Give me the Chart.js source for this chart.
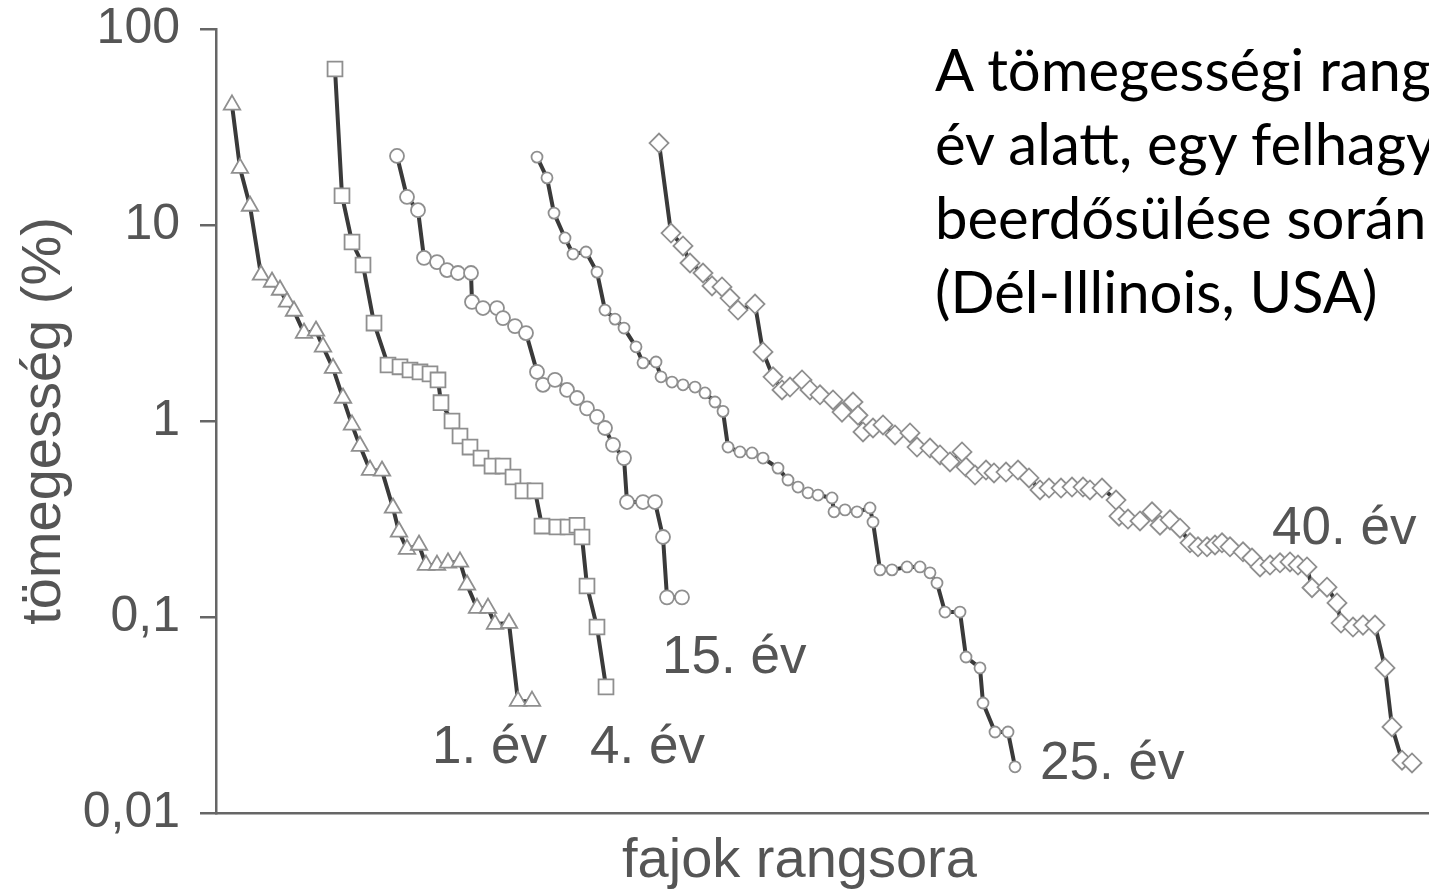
<!DOCTYPE html>
<html lang="hu">
<head>
  <meta charset="UTF-8">
  <title>Tömegességi rangsor</title>
  <script src="https://cdn.jsdelivr.net/npm/chart.js"></script>
  <style>
    html, body { margin: 0; padding: 0; background: #fff; overflow: hidden; }
    .wrap { position: relative; width: 1429px; height: 891px; overflow: hidden; }
    .lbl { position: absolute; font-family: "Liberation Sans", Arial, sans-serif; font-size: 53px; line-height: 1; color: #555; white-space: nowrap; }
    .cim { position: absolute; left: 935px; top: 32px; font-family: Lato, "Open Sans", sans-serif; font-size: 58px; line-height: 74px; color: #000; white-space: nowrap; }
  </style>
</head>
<body>
  <div class="wrap">
    <canvas id="rang"></canvas>
    <div class="cim">A tömegességi rang<br>év alatt, egy felhagy<br>beerdősülése során<br>(Dél-Illinois, USA)</div>
    <div class="lbl" style="left:432px; top:718px">1. év</div>
    <div class="lbl" style="left:590px; top:718px">4. év</div>
    <div class="lbl" style="left:662px; top:628px">15. év</div>
    <div class="lbl" style="left:1040px; top:734px">25. év</div>
    <div class="lbl" style="left:1272px; top:499px">40. év</div>
    <div class="lbl" style="left:622px; top:830px; font-size:56px">fajok rangsora</div>
  </div>

  <script>
    // y tengely beosztása (log)
    const yTicks = [0.01, 0.1, 1, 10, 100];

    // rangsor-pozíciók (x) és tömegességek (%) sorozatonként
    const x1 = [1.6, 2.4, 3.4, 4.5, 5.6, 6.4, 7.1, 7.8, 8.8, 10.0, 10.7, 11.7, 12.7, 13.6, 14.4, 15.4, 16.6, 17.7, 18.3, 19.1,
                20.3, 21.0, 22.1, 23.2, 24.4, 25.1, 26.1, 27.2, 27.9, 29.3, 30.2, 31.6];
    const y1 = [41, 19.5, 12.5, 5.56, 5.12, 4.66, 4.05, 3.64, 2.81, 2.88, 2.39, 1.86, 1.31, 0.955, 0.745, 0.562, 0.556, 0.360, 0.272, 0.222,
                0.233, 0.184, 0.184, 0.189, 0.191, 0.146, 0.111, 0.111, 0.092, 0.093, 0.0372, 0.0372];

    const x4 = [11.9, 12.6, 13.6, 14.7, 15.8, 17.2, 18.4, 19.4, 20.4, 21.4, 22.2, 22.5, 23.6, 24.4, 25.4, 26.5, 27.6, 28.7, 29.7, 30.7,
                31.9, 32.6, 34.1, 35.2, 36.1, 36.6, 37.1, 38.1, 39.0];
    const y4 = [62.5, 14.1, 8.19, 6.25, 3.16, 1.93, 1.89, 1.82, 1.78, 1.74, 1.62, 1.24, 1.00, 0.838, 0.736, 0.647, 0.589, 0.589, 0.518, 0.440,
                0.440, 0.291, 0.288, 0.288, 0.294, 0.256, 0.144, 0.0889, 0.0440];

    const x15 = [18.1, 19.1, 20.2, 20.8, 22.1, 23.1, 24.2, 25.5, 25.6, 26.7, 28.1, 28.7, 29.9, 31.0, 32.1, 32.7, 33.9, 35.1, 36.1, 37.1,
                 38.1, 38.9, 39.7, 40.8, 41.1, 42.7, 43.9, 44.7, 45.1, 46.6];
    const y15 = [22.5, 13.9, 11.9, 6.79, 6.47, 5.89, 5.69, 5.69, 4.05, 3.77, 3.77, 3.35, 3.05, 2.81, 1.78, 1.53, 1.62, 1.44, 1.31, 1.16,
                 1.05, 0.921, 0.755, 0.647, 0.386, 0.386, 0.386, 0.256, 0.126, 0.126];

    const x25 = [32.1, 33.1, 33.8, 34.9, 35.7, 37.0, 38.1, 38.9, 39.9, 40.8, 42.0, 42.7, 44.0, 44.5, 45.6, 46.7, 47.9, 48.9, 49.9, 50.7,
                 51.2, 52.4, 53.6, 54.7, 56.2, 57.2, 58.2, 59.2, 60.2, 61.6, 61.8, 62.9, 64.1, 65.4, 65.7, 66.4, 67.6, 69.1, 70.4, 71.4,
                 72.1, 72.9, 74.4, 75.0, 76.4, 76.7, 77.9, 79.2, 79.9];
    const y25 = [22.2, 17.4, 11.5, 8.59, 7.11, 7.28, 5.75, 3.68, 3.31, 2.98, 2.39, 1.98, 2.00, 1.68, 1.58, 1.53, 1.49, 1.39, 1.25, 1.12,
                 0.736, 0.695, 0.687, 0.647, 0.575, 0.500, 0.460, 0.430, 0.419, 0.405, 0.344, 0.352, 0.344, 0.360, 0.305, 0.174, 0.174, 0.180, 0.180, 0.168,
                 0.149, 0.106, 0.106, 0.0625, 0.0550, 0.0364, 0.0259, 0.0259, 0.0172];

    const x40 = [44.3, 45.5, 46.7, 47.4, 48.7, 49.6, 50.6, 51.4, 52.2, 53.9, 54.7, 55.7, 56.6, 57.4, 58.6, 59.4, 60.4, 61.7, 62.6, 63.7,
                 64.2, 64.7, 65.7, 66.7, 67.9, 69.4, 70.1, 71.4, 72.4, 73.4, 74.6, 75.0, 75.9, 77.0, 77.8, 79.0, 80.2, 81.3, 82.4, 83.3,
                 84.5, 85.6, 86.7, 87.4, 88.6, 90.0, 90.3, 91.2, 92.4, 93.6, 94.4, 95.4, 96.4, 97.4, 98.2, 99.1, 99.9, 100.6, 101.4, 102.7,
                 103.6, 104.4, 105.4, 106.4, 107.4, 108.2, 109.1, 109.6, 111.1, 112.1, 112.5, 113.7, 114.7, 115.9, 116.9, 117.6, 118.6, 119.6];
    const y40 = [26.2, 9.10, 7.82, 6.40, 5.69, 4.89, 4.83, 4.24, 3.68, 3.95, 2.25, 1.68, 1.44, 1.49, 1.62, 1.44, 1.36, 1.28, 1.11, 1.25,
                 1.07, 0.879, 0.921, 0.955, 0.849, 0.869, 0.736, 0.728, 0.671, 0.618, 0.695, 0.582, 0.530, 0.562, 0.543, 0.549, 0.562, 0.512, 0.445, 0.455,
                 0.455, 0.460, 0.460, 0.445, 0.455, 0.395, 0.327, 0.316, 0.309, 0.344, 0.294, 0.313, 0.284, 0.239, 0.228, 0.228, 0.233, 0.239, 0.228, 0.215,
                 0.200, 0.180, 0.184, 0.189, 0.191, 0.184, 0.180, 0.141, 0.142, 0.118, 0.0931, 0.0889, 0.0909, 0.0909, 0.0550, 0.0275, 0.0186, 0.0180];

    const pontok = (xs, ys) => xs.map((x, i) => ({ x: x, y: ys[i] }));

    function sorozat(nev, xs, ys, alak, meret) {
      return {
        label: nev,
        data: pontok(xs, ys),
        borderColor: '#3a3a3a',
        borderWidth: 4,
        pointStyle: alak,
        pointRadius: meret,
        pointBorderColor: '#8f8f8f',
        pointBorderWidth: 1.8,
        pointBackgroundColor: '#fff',
        tension: 0
      };
    }

    const ctx = document.getElementById('rang').getContext('2d');
    new Chart(ctx, {
      type: 'line',
      data: {
        datasets: [
          sorozat('1. év', x1, y1, 'triangle', 9.5),
          sorozat('4. év', x4, y4, 'rect', 10.5),
          sorozat('15. év', x15, y15, 'circle', 7),
          sorozat('25. év', x25, y25, 'circle', 5.5),
          sorozat('40. év', x40, y40, 'rectRot', 9.5)
        ]
      },
      options: {
        responsive: true,
        maintainAspectRatio: false,
        animation: false,
        layout: { autoPadding: false, padding: { top: 29, right: 0, left: 0, bottom: 0 } },
        plugins: { legend: { display: false }, tooltip: { enabled: false } },
        scales: {
          x: {
            type: 'linear',
            min: 0,
            max: 121.3,
            ticks: { display: false },
            grid: { display: false },
            border: { display: true, color: '#666', width: 2.5 },
            afterFit: function (scale) { scale.height = 78; }
          },
          y: {
            type: 'logarithmic',
            min: 0.01,
            max: 100,
            afterBuildTicks: function (scale) {
              scale.ticks = yTicks.map(v => ({ value: v }));
            },
            ticks: {
              color: '#555',
              padding: 20,
              // kis lineHeight, hogy a felirat ne tolja le a rajzterület tetejét
              font: { family: 'Liberation Sans', size: 50, lineHeight: 0.3 },
              callback: v => String(v).replace('.', ',')
            },
            grid: { drawOnChartArea: false, drawTicks: true, tickLength: 16, color: '#666', lineWidth: 2.5 },
            border: { display: true, color: '#666', width: 2.5 },
            title: {
              display: true,
              text: 'tömegesség (%)',
              color: '#555',
              font: { family: 'Liberation Sans', size: 56, lineHeight: 1.2 },
              padding: { top: 11, bottom: 0 }
            },
            afterFit: function (scale) { scale.width = 216; }
          }
        }
      }
    });
  </script>
</body>
</html>
